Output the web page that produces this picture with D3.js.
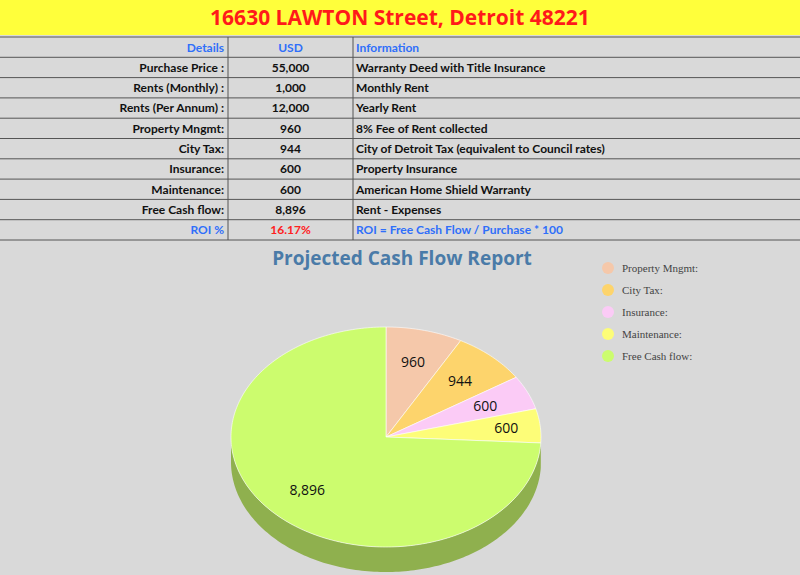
<!DOCTYPE html>
<html>
<head>
<meta charset="UTF-8">
<script src="https://d3js.org/d3.v7.min.js"></script>
<style>
  body { margin: 0; background: #d9d9d9; }
</style>
</head>
<body>
<svg id="chart" width="800" height="575"></svg>
<script>
const title = "16630 LAWTON Street, Detroit 48221";
const headers = ["Details", "USD", "Information"];
const details = ["Purchase Price :", "Rents (Monthly) :", "Rents (Per Annum) :", "Property Mngmt:", "City Tax:", "Insurance:", "Maintenance:", "Free Cash flow:", "ROI %"];
const usd = ["55,000", "1,000", "12,000", "960", "944", "600", "600", "8,896", "16.17%"];
const info = ["Warranty Deed with Title Insurance", "Monthly Rent", "Yearly Rent", "8%  Fee of Rent collected",
  "City of Detroit Tax (equivalent to Council rates)", "Property Insurance", "American Home Shield Warranty",
  "Rent - Expenses", "ROI = Free Cash Flow / Purchase * 100"];

const pieLabels = ["Property Mngmt:", "City Tax:", "Insurance:", "Maintenance:", "Free Cash flow:"];
const pieValues = [960, 944, 600, 600, 8896];
const pieColors = ["#f5c8aa", "#fdd46c", "#fbcbf6", "#fdfd78", "#ccfc6e"];
const sideColors = ["#c9a088", "#caa856", "#c9a2c5", "#caca60", "#8fb04e"];

const svg = d3.select("#chart");
svg.append("rect").attr("width", 800).attr("height", 575).attr("fill", "#d9d9d9");

// title bar
svg.append("rect").attr("width", 800).attr("height", 35).attr("fill", "#ffff3b");
svg.append("text").attr("x", 400).attr("y", 25).attr("text-anchor", "middle")
  .style("font", "bold 21px 'Open Sans', sans-serif").attr("fill", "#ff1a1a").text(title);

// table
const rowH = 20.3, tableTop = 37;
const cols = [0, 228, 353, 800];
const nRows = details.length + 1;
const t = svg.append("g");
for (let i = 0; i <= nRows; i++) {
  t.append("line").attr("x1", 0).attr("x2", 800).attr("y1", tableTop + i * rowH).attr("y2", tableTop + i * rowH)
    .attr("stroke", "#555").attr("stroke-width", 1);
}
cols.slice(1, 3).forEach(x => t.append("line").attr("x1", x).attr("x2", x)
  .attr("y1", tableTop).attr("y2", tableTop + nRows * rowH).attr("stroke", "#555"));

const font = "bold 12px Lato, sans-serif";
function row(i, a, b, c, colA, colB, colC) {
  const y = tableTop + i * rowH + 14.5;
  t.append("text").attr("x", cols[1] - 4).attr("y", y).attr("text-anchor", "end").style("font", font).attr("fill", colA).text(a);
  t.append("text").attr("x", (cols[1] + cols[2]) / 2).attr("y", y).attr("text-anchor", "middle").style("font", font).attr("fill", colB).text(b);
  t.append("text").attr("x", cols[2] + 3).attr("y", y).style("font", font).attr("fill", colC).text(c);
}
row(0, headers[0], headers[1], headers[2], "#2f6ffa", "#2f6ffa", "#2f6ffa");
details.forEach((d, i) => {
  const last = i === details.length - 1;
  row(i + 1, d, usd[i], info[i], last ? "#2f6ffa" : "#111", last ? "#ff2020" : "#111", last ? "#2f6ffa" : "#111");
});

// chart title
svg.append("text").attr("x", 402).attr("y", 265).attr("text-anchor", "middle")
  .style("font", "bold 19px 'Open Sans', sans-serif").attr("fill", "#4a7ba8").text("Projected Cash Flow Report");

// 3D pie
const cx = 386, cy = 437, rx = 155, ry = 110, depth = 25;
const arcs = d3.pie().sort(null)(pieValues);
const pt = (a, dy = 0) => [cx + rx * Math.sin(a), cy - ry * Math.cos(a) + dy];
function arcPts(a0, a1, dy) {
  const n = Math.max(2, Math.ceil((a1 - a0) / 0.02));
  return d3.range(n + 1).map(k => pt(a0 + (a1 - a0) * k / n, dy));
}
const line = d3.line();
const pg = svg.append("g");
// sides (front half: angles between PI/2 and 3PI/2)
arcs.forEach((d, i) => {
  const a0 = Math.max(d.startAngle, Math.PI / 2), a1 = Math.min(d.endAngle, 3 * Math.PI / 2);
  if (a1 <= a0) return;
  const p = arcPts(a0, a1, 0).concat(arcPts(a0, a1, depth).reverse());
  pg.append("path").attr("d", line(p) + "Z").attr("fill", sideColors[i]);
});
// tops
arcs.forEach((d, i) => {
  const p = [[cx, cy]].concat(arcPts(d.startAngle, d.endAngle, 0));
  pg.append("path").attr("d", line(p) + "Z").attr("fill", pieColors[i])
    .attr("stroke", "#fff").attr("stroke-width", 0.6);
});
// labels
arcs.forEach((d, i) => {
  const m = (d.startAngle + d.endAngle) / 2;
  const r = i === 3 ? 0.78 : 0.7;
  pg.append("text").attr("x", cx + r * rx * Math.sin(m)).attr("y", cy - r * ry * Math.cos(m) + 5)
    .attr("text-anchor", "middle").style("font", "14px 'Open Sans', sans-serif").attr("fill", "#111")
    .text(d3.format(",")(pieValues[i]));
});

// legend
const lg = svg.append("g");
pieLabels.forEach((l, i) => {
  const y = 268 + i * 22;
  lg.append("circle").attr("cx", 608).attr("cy", y).attr("r", 6).attr("fill", pieColors[i]);
  lg.append("text").attr("x", 622).attr("y", y + 4).style("font", "11px 'Liberation Serif', serif")
    .attr("fill", "#444").text(l);
});
</script>
</body>
</html>
